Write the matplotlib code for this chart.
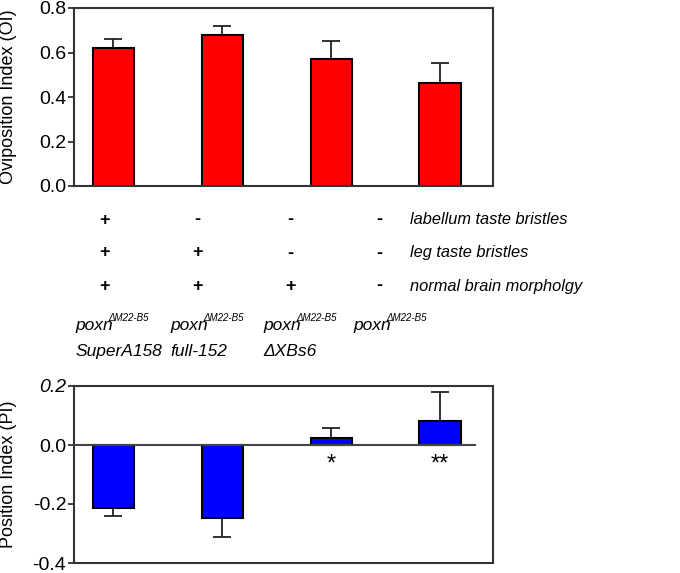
import numpy as np
import matplotlib.pyplot as plt

plt.rcParams['font.family'] = ['Liberation Sans', 'DejaVu Sans']

# data
oi = [0.62, 0.68, 0.57, 0.465]
oi_err = [0.04, 0.04, 0.08, 0.09]
pi = [-0.212, -0.246, 0.024, 0.081]
pi_err = [0.027, 0.067, 0.033, 0.10]
stars = ['', '', '*', '**']

rows = ['labellum taste bristles', 'leg taste bristles', 'normal brain morpholgy']
marks = [['+', '-', '-', '-'],
         ['+', '+', '-', '-'],
         ['+', '+', '+', '-']]
geno_sub = ['SuperA158', 'full-152', '\u0394XBs6', '']

x = np.arange(4)
W, H = 680, 573
fig = plt.figure(figsize=(6.8, 5.73), dpi=100)

# top panel
ax1 = fig.add_axes([74 / W, 1 - 186 / H, 419 / W, 178 / H])
ax1.bar(x, oi, width=0.38, color='#ff0000', edgecolor='black', linewidth=1.5, zorder=2)
ax1.errorbar(x, oi, yerr=[np.zeros(4), oi_err], fmt='none', ecolor='#222222',
             elinewidth=1.3, capsize=6.5, capthick=1.3, zorder=1)
ax1.set_xlim(-0.362, 3.486)
ax1.set_ylim(0, 0.8)
ax1.set_yticks([0, 0.2, 0.4, 0.6, 0.8])
ax1.set_yticklabels(['0.0', '0.2', '0.4', '0.6', '0.8'], fontsize=14)
ax1.set_xticks([])
ax1.set_ylabel('Oviposition Index (OI)', fontsize=13)

# bottom panel
ax2 = fig.add_axes([74 / W, 1 - 563 / H, 419 / W, 177 / H])
ax2.bar(x, pi, width=0.38, color='#0000ff', edgecolor='black', linewidth=1.5, zorder=2)
lo = [e if v < 0 else 0 for v, e in zip(pi, pi_err)]
hi = [e if v >= 0 else 0 for v, e in zip(pi, pi_err)]
ax2.errorbar(x, pi, yerr=[lo, hi], fmt='none', ecolor='#222222',
             elinewidth=1.3, capsize=6.5, capthick=1.3, zorder=1)
ax2.axhline(0, xmin=0, xmax=0.957, color='#444444', linewidth=1.5, zorder=3)
for i, s in enumerate(stars):
    if s:
        ax2.text(x[i], -0.065, s, ha='center', va='center', fontsize=17)
ax2.set_xlim(-0.362, 3.486)
ax2.set_ylim(-0.4, 0.2)
ax2.set_yticks([-0.4, -0.2, 0, 0.2])
ax2.set_yticklabels(['-0.4', '-0.2', '0.0', '0.2'], fontsize=14)
ax2.get_yticklabels()[-1].set_style('italic')
ax2.set_xticks([])
ax2.set_ylabel('Position Index (PI)', fontsize=13)

for ax in (ax1, ax2):
    for sp in ax.spines.values():
        sp.set_linewidth(1.5)
        sp.set_color('#333333')
    ax.tick_params(axis='y', direction='out', length=4, width=1.3, color='#333333', pad=1.5)
    ax.yaxis.set_label_coords(-0.136, 0.5)

# table of features
col_x = [104, 197, 290, 379]
row_y = [220, 253, 286]
for r, lab in enumerate(rows):
    for c in range(4):
        fig.text(col_x[c] / W, 1 - row_y[r] / H, marks[r][c], ha='center', va='center',
                 fontsize=13, fontweight='bold')
    fig.text(410 / W, 1 - row_y[r] / H, lab, ha='left', va='center',
             fontsize=11.8, style='italic')

# genotype labels
gen_x = [75, 170, 263, 353]
for c in range(4):
    fig.text(gen_x[c] / W, 1 - 330 / H, 'poxn', ha='left', va='baseline',
             fontsize=12.5, style='italic')
    fig.text((gen_x[c] + 33) / W, 1 - 321 / H, '\u0394M22-B5', ha='left', va='baseline',
             fontsize=7, style='italic')
    if geno_sub[c]:
        fig.text(gen_x[c] / W, 1 - 356 / H, geno_sub[c], ha='left', va='baseline',
                 fontsize=12.5, style='italic')

fig.savefig('out.png', dpi=100)
